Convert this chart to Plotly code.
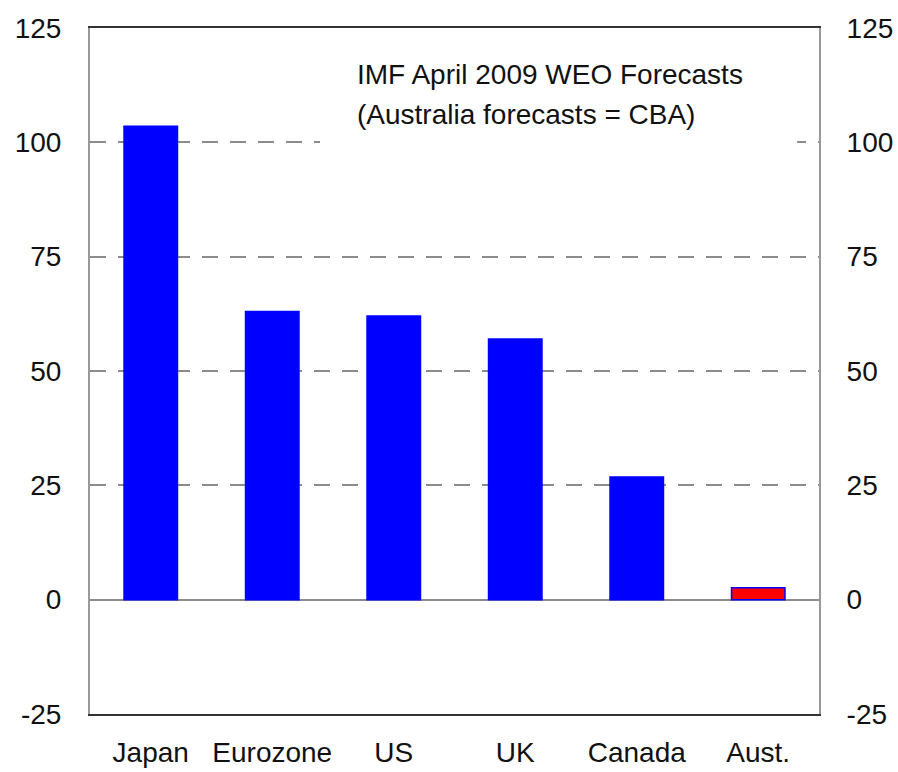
import plotly.graph_objects as go

# Gross government debt forecasts (% of GDP)
countries = ["Japan", "Eurozone", "US", "UK", "Canada", "Aust."]
debt = [103.5, 63.0, 62.0, 57.0, 26.8, 2.6]
fill_colors = ["#0000FF", "#0000FF", "#0000FF", "#0000FF", "#0000FF", "#FF0000"]
tick_vals = [-25, 0, 25, 50, 75, 100, 125]
tick_text = ["-25", "0", "25", "50", "75", "100", "125"]
y_range = [-25, 125]
note_lines = ["IMF April 2009 WEO Forecasts", "(Australia forecasts = CBA)"]

FONT = "Liberation Sans, Arial, sans-serif"
GRID = "#8c8c8c"
FS = 28

fig = go.Figure()
fig.add_trace(go.Bar(
    x=countries, y=debt, width=0.44,
    marker=dict(color=fill_colors, line=dict(color="#0000FF", width=1.5)),
    hoverinfo="x+y", showlegend=False,
))
# invisible companion so the right-hand axis is drawn
fig.add_trace(go.Scatter(
    x=countries, y=debt, yaxis="y2", mode="markers",
    marker=dict(opacity=0), hoverinfo="skip", showlegend=False,
))

fig.update_layout(
    width=898, height=772,
    margin=dict(l=90, r=79, t=28, b=58, autoexpand=False),
    paper_bgcolor="white", plot_bgcolor="white",
    font=dict(family=FONT, size=FS, color="#111"),
    xaxis=dict(
        showgrid=False, showline=True, linecolor="#333", linewidth=2, mirror=True,
        ticks="", ticklabelstandoff=12, tickfont=dict(size=FS), automargin=False,
    ),
    yaxis=dict(
        range=y_range, tickvals=tick_vals, ticktext=tick_text,
        showgrid=True, gridcolor=GRID, gridwidth=2, griddash="16px,12px",
        zeroline=True, zerolinecolor=GRID, zerolinewidth=2,
        showline=True, linecolor="#999", linewidth=2,
        ticks="", ticklabelstandoff=21, tickfont=dict(size=FS), automargin=False,
    ),
    yaxis2=dict(
        range=y_range, tickvals=tick_vals, ticktext=tick_text,
        overlaying="y", side="right", showgrid=False, zeroline=False,
        showline=True, linecolor="#999", linewidth=2,
        ticks="", ticklabelstandoff=20, tickfont=dict(size=FS), automargin=False,
    ),
    # white panel behind the note, masking the gridline it sits on
    shapes=[dict(
        type="rect", layer="above", xref="paper", yref="y",
        x0=0.3155, x1=0.970, y0=92, y1=123.5,
        fillcolor="white", line=dict(width=0),
    )],
    annotations=[
        dict(xref="paper", yref="paper", x=0.3635, y=y,
             xanchor="left", yanchor="middle", align="left", showarrow=False,
             text=t, font=dict(size=FS, color="#111"))
        for t, y in zip(note_lines, [0.9315, 0.8732])
    ],
)

fig.write_html("out.html")
